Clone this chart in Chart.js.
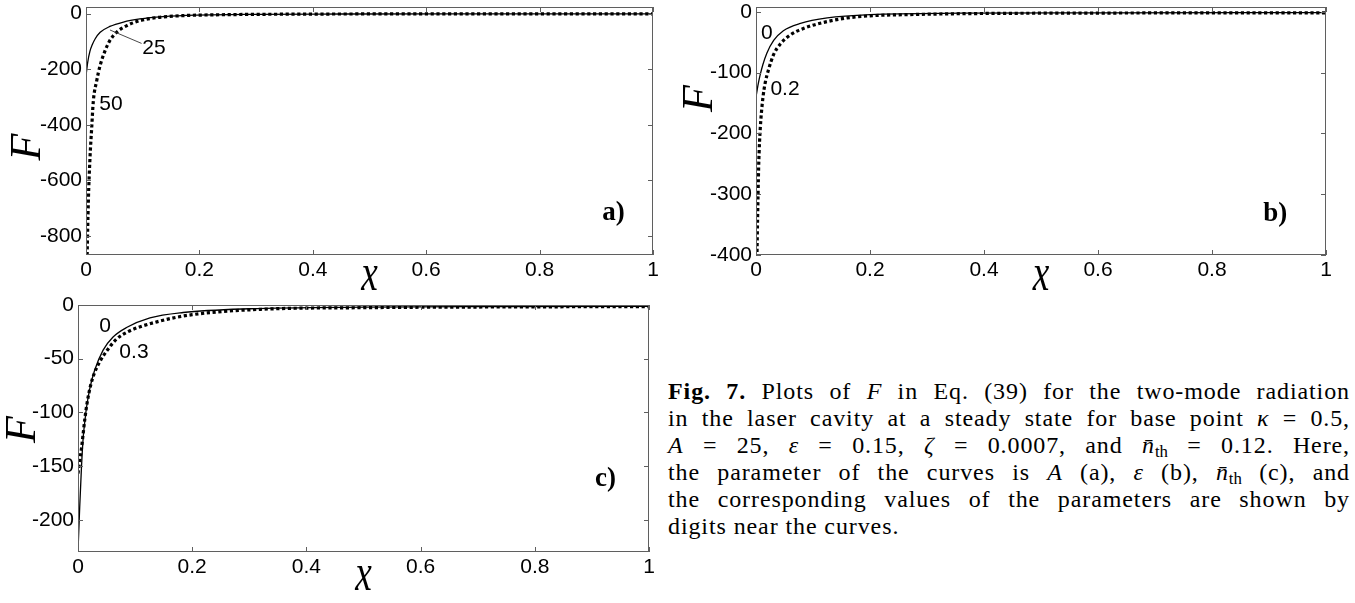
<!DOCTYPE html>
<html>
<head>
<meta charset="utf-8">
<script src="https://cdn.jsdelivr.net/npm/chart.js@4.4.0/dist/chart.umd.min.js"></script>
<style>
html,body{margin:0;padding:0;background:#fff;}
body{width:1355px;height:603px;position:relative;overflow:hidden;}
canvas{position:absolute;}
#cap{position:absolute;left:668px;top:378px;width:682px;font-family:"Liberation Serif",serif;font-size:24px;line-height:27px;letter-spacing:0.9px;color:#000;}
#cap .j{text-align:justify;text-align-last:justify;}
#cap sub{font-size:0.7em;line-height:0;vertical-align:-0.25em;letter-spacing:0;}
</style>
</head>
<body>
<canvas id="pa" width="665" height="300" style="left:0;top:0"></canvas>
<canvas id="pb" width="690" height="300" style="left:665px;top:0"></canvas>
<canvas id="pc" width="665" height="315" style="left:0;top:288px"></canvas>
<div id="cap">
<div class="j"><b>Fig. 7.</b> Plots of <i>F</i> in Eq. (39) for the two-mode radiation</div>
<div class="j">in the laser cavity at a steady state for base point <i>κ</i> = 0.5,</div>
<div class="j"><i>A</i> = 25, <i>ε</i> = 0.15, <i>ζ</i> = 0.0007, and <i>n̄</i><sub>th</sub> = 0.12. Here,</div>
<div class="j">the parameter of the curves is <i>A</i> (a), <i>ε</i> (b), <i>n̄</i><sub>th</sub> (c), and</div>
<div class="j">the corresponding values of the parameters are shown by</div>
<div>digits near the curves.</div>
</div>
<script>
// ---------- ticks ----------
const X_TICKS = [0, 0.2, 0.4, 0.6, 0.8, 1];
const X_TICK_LABELS = ['0', '0.2', '0.4', '0.6', '0.8', '1'];
const Y_TICKS_A = [0, -200, -400, -600, -800];
const Y_TICK_LABELS_A = ['0', '-200', '-400', '-600', '-800'];
const Y_TICKS_B = [0, -100, -200, -300, -400];
const Y_TICK_LABELS_B = ['0', '-100', '-200', '-300', '-400'];
const Y_TICKS_C = [0, -50, -100, -150, -200];
const Y_TICK_LABELS_C = ['0', '-50', '-100', '-150', '-200'];

// ---------- panel a: parameter A = 25 (solid), 50 (dotted) ----------
const X_A25 = [0, 0.003, 0.007, 0.011, 0.016, 0.025, 0.042, 0.066, 0.095, 0.136, 0.195, 0.3, 0.45, 0.7, 1];
const F_A25 = [-224, -175, -135, -112, -91, -67, -46, -30, -19, -10.5, -5, -2.2, -1.2, -0.7, -0.4];
const X_A50 = [0.002, 0.0041, 0.007, 0.01, 0.0129, 0.0188, 0.0247, 0.0335, 0.042, 0.054, 0.072, 0.095, 0.13, 0.172, 0.25, 0.4, 0.6, 0.8, 1];
const F_A50 = [-868, -677, -520, -412, -315, -242, -188, -134, -97, -67, -43, -25, -13, -7, -3.5, -1.5, -0.8, -0.5, -0.4];

// ---------- panel b: parameter eps = 0 (solid), 0.2 (dotted) ----------
const X_E0 = [0, 0.004, 0.0075, 0.012, 0.019, 0.031, 0.048, 0.078, 0.125, 0.2, 0.36, 0.6, 1];
const F_E0 = [-140, -118, -103, -87, -68, -47, -31, -19, -10, -4.5, -2.2, -1.6, -1.2];
const X_E02 = [0.0018, 0.0028, 0.0046, 0.0063, 0.0088, 0.0123, 0.0163, 0.022, 0.031, 0.0426, 0.06, 0.084, 0.125, 0.16, 0.2, 0.27, 0.36, 0.6, 1];
const F_E02 = [-395, -340, -257, -212, -174, -140, -116, -95, -70, -53, -38, -27, -16, -10, -6.5, -4.5, -3, -2, -1.5];

// ---------- panel c: parameter n_th = 0 (solid), 0.3 (dotted) ----------
const X_N0 = [0, 0.003, 0.006, 0.009, 0.0125, 0.015, 0.021, 0.029, 0.044, 0.061, 0.085, 0.126, 0.184, 0.3, 0.5, 0.75, 1];
const F_N0 = [-229, -188, -152, -124, -106, -95, -77, -61, -42, -30, -21, -12, -7, -3.5, -2, -1.5, -1.2];
const X_N03 = [0, 0.003, 0.006, 0.009, 0.012, 0.016, 0.022, 0.029, 0.038, 0.05, 0.067, 0.087, 0.143, 0.2, 0.32, 0.5, 0.75, 1];
const F_N03 = [-157, -145, -134, -120, -106, -91, -75, -63, -53, -43, -32, -25, -15, -9, -4, -2.5, -1.8, -1.5];

// ---------- texts ----------
const PARAM_A = ['25', '50'];
const PARAM_B = ['0', '0.2'];
const PARAM_C = ['0', '0.3'];
const PANEL_LABELS = ['a)', 'b)', 'c)'];
const X_TITLE = 'x';
const Y_TITLE = 'F';

function pts(xs, fs) { return xs.map((x, i) => ({x: x, y: fs[i]})); }

const decor = {
  id: 'decor',
  afterDraw(chart, args, o) {
    const ctx = chart.ctx, ca = chart.chartArea, xs = chart.scales.x, ys = chart.scales.y;
    ctx.save();
    ctx.strokeStyle = '#5f5f5f';
    ctx.lineWidth = 1;
    ctx.strokeRect(ca.left + 0.5, ca.top + 0.5, ca.right - ca.left - 1, ca.bottom - ca.top - 1);
    ctx.beginPath();
    const tl = 5;
    o.yTicks.forEach(v => {
      const p = Math.round(ys.getPixelForValue(v)) + 0.5;
      ctx.moveTo(ca.left, p); ctx.lineTo(ca.left + tl, p);
      ctx.moveTo(ca.right, p); ctx.lineTo(ca.right - tl, p);
    });
    X_TICKS.forEach(v => {
      const p = Math.round(xs.getPixelForValue(v)) + 0.5;
      ctx.moveTo(p, ca.bottom); ctx.lineTo(p, ca.bottom - tl);
      ctx.moveTo(p, ca.top); ctx.lineTo(p, ca.top + tl);
    });
    ctx.stroke();
    ctx.fillStyle = '#000';
    ctx.save();
    ctx.font = 'italic 44px "Liberation Serif"';
    ctx.textAlign = 'center';
    ctx.textBaseline = 'middle';
    ctx.translate(o.yTitle.cx, o.yTitle.cy);
    ctx.rotate(-Math.PI / 2);
    ctx.fillText(Y_TITLE, 0, 0);
    ctx.restore();
    ctx.save();
    ctx.font = 'italic 44px "Liberation Serif"';
    ctx.textAlign = 'center';
    ctx.textBaseline = 'alphabetic';
    ctx.translate((ca.left + ca.right) / 2, o.xTitleBaseline);
    ctx.scale(0.85, 1.2);
    ctx.fillText(X_TITLE, 0, 0);
    ctx.restore();
    ctx.font = 'bold 27px "Liberation Serif"';
    ctx.textAlign = 'right';
    ctx.textBaseline = 'alphabetic';
    ctx.fillText(o.panel.text, xs.getPixelForValue(o.panel.x), ys.getPixelForValue(o.panel.y));
    ctx.font = '21px "Liberation Sans"';
    ctx.textAlign = 'center';
    ctx.textBaseline = 'middle';
    o.notes.forEach(n => ctx.fillText(n.text, xs.getPixelForValue(n.x), ys.getPixelForValue(n.y)));
    if (o.leader) {
      ctx.strokeStyle = '#333';
      ctx.lineWidth = 0.9;
      ctx.beginPath();
      ctx.moveTo(xs.getPixelForValue(o.leader[0]), ys.getPixelForValue(o.leader[1]));
      ctx.lineTo(xs.getPixelForValue(o.leader[2]), ys.getPixelForValue(o.leader[3]));
      ctx.stroke();
    }
    ctx.restore();
  }
};

const SOLID = {borderColor: '#000', borderWidth: 1.3, pointRadius: 0, showLine: true, fill: false, cubicInterpolationMode: 'monotone'};
const DOTTED = {borderColor: '#000', borderWidth: 3.2, borderDash: [3.2, 2.6], borderCapStyle: 'butt', pointRadius: 0, showLine: true, fill: false, cubicInterpolationMode: 'monotone'};

function makeChart(id, W, H, box, yMin, yMax, yTicks, yLabels, datasets, deco) {
  const tickFont = {family: 'Liberation Sans', size: 21};
  return new Chart(document.getElementById(id), {
    type: 'scatter',
    data: {datasets: datasets},
    options: {
      responsive: false,
      animation: false,
      devicePixelRatio: 1,
      layout: {padding: {left: 0, top: box.top, right: W - box.right, bottom: 0}},
      plugins: {legend: {display: false}, tooltip: {enabled: false}, decor: Object.assign({yTicks: yTicks}, deco)},
      scales: {
        x: {
          type: 'linear', min: 0, max: 1,
          afterBuildTicks: s => { s.ticks = X_TICKS.map(v => ({value: v})); },
          afterFit: s => { s.height = H - box.bottom; s.paddingLeft = 0; s.paddingRight = 0; },
          grid: {display: false, drawTicks: false},
          border: {display: false},
          ticks: {autoSkip: false, maxRotation: 0, padding: 3, color: '#000', font: tickFont,
            callback: v => { const i = X_TICKS.indexOf(v); return i >= 0 ? X_TICK_LABELS[i] : ''; }}
        },
        y: {
          type: 'linear', min: yMin, max: yMax,
          afterBuildTicks: s => { s.ticks = yTicks.slice().sort((a, b) => a - b).map(v => ({value: v})); },
          afterFit: s => { s.width = box.left; s.paddingTop = 0; s.paddingBottom = 0; },
          grid: {display: false, drawTicks: false},
          border: {display: false},
          ticks: {autoSkip: false, padding: 4, color: '#000', font: tickFont,
            callback: v => { const i = yTicks.indexOf(v); return i >= 0 ? yLabels[i] : ''; }}
        }
      }
    },
    plugins: [decor]
  });
}

makeChart('pa', 665, 300, {left: 86, right: 653, top: 7, bottom: 255}, -868, 24, Y_TICKS_A, Y_TICK_LABELS_A,
  [Object.assign({label: PARAM_A[0], data: pts(X_A25, F_A25)}, SOLID),
   Object.assign({label: PARAM_A[1], data: pts(X_A50, F_A50)}, DOTTED)],
  {yTitle: {cx: 28, cy: 147}, xTitleBaseline: 290,
   panel: {text: PANEL_LABELS[0], x: 0.95, y: -742},
   notes: [{text: PARAM_A[0], x: 0.12, y: -125}, {text: PARAM_A[1], x: 0.0441, y: -324}],
   leader: [0.0423, -58.7, 0.098, -107]});

makeChart('pb', 690, 300, {left: 91, right: 661, top: 7, bottom: 255}, -400, 8, Y_TICKS_B, Y_TICK_LABELS_B,
  [Object.assign({label: PARAM_B[0], data: pts(X_E0, F_E0)}, SOLID),
   Object.assign({label: PARAM_B[1], data: pts(X_E02, F_E02)}, DOTTED)],
  {yTitle: {cx: 35, cy: 98.5}, xTitleBaseline: 290,
   panel: {text: PANEL_LABELS[1], x: 0.932, y: -344},
   notes: [{text: PARAM_B[0], x: 0.0188, y: -35}, {text: PARAM_B[1], x: 0.0509, y: -126.5}]});

makeChart('pc', 665, 315, {left: 78, right: 649, top: 17, bottom: 264}, -230, 0, Y_TICKS_C, Y_TICK_LABELS_C,
  [Object.assign({label: PARAM_C[0], data: pts(X_N0, F_N0)}, SOLID),
   Object.assign({label: PARAM_C[1], data: pts(X_N03, F_N03)}, DOTTED)],
  {yTitle: {cx: 23, cy: 141.5}, xTitleBaseline: 302,
   panel: {text: PANEL_LABELS[2], x: 0.942, y: -169},
   notes: [{text: PARAM_C[0], x: 0.0473, y: -20}, {text: PARAM_C[1], x: 0.098, y: -44}]});
</script>
</body>
</html>
